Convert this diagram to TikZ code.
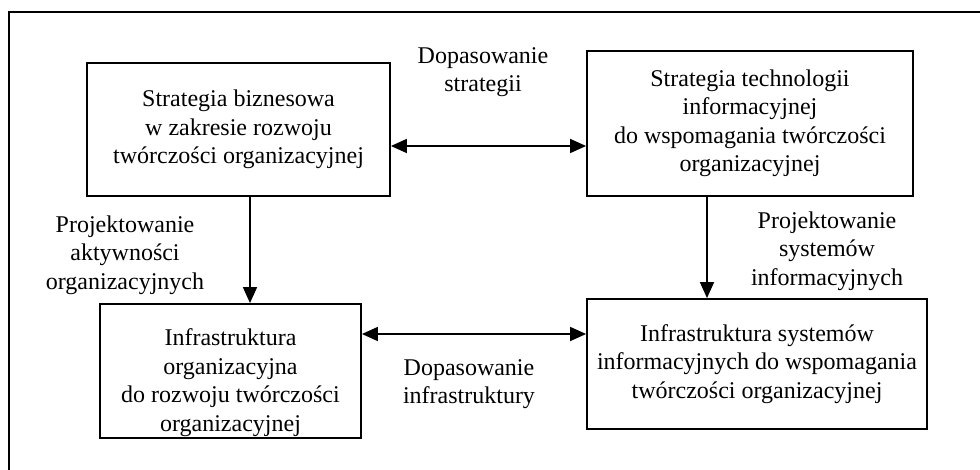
\documentclass[tikz,border=0pt]{standalone}
\usepackage{fontspec}
\setmainfont{Liberation Serif}
\usetikzlibrary{arrows.meta}
\usetikzlibrary{calc}

\tikzset{
	blok/.style={draw, line width=1.8pt, align=center, inner sep=0pt},
	opis/.style={align=center, inner sep=0pt},
	strz/.style={line width=1.5pt, -{Triangle[length=16pt,width=14pt]}},
	dwustrz/.style={line width=1.5pt, {Triangle[length=16pt,width=14pt]}-{Triangle[length=16pt,width=14pt]}}
}

\begin{document}
\begin{tikzpicture}[x=1pt, y=-1pt, font=\fontsize{24}{28.5}\selectfont]
	\useasboundingbox (0,0) rectangle (980,470);
	% ramka (widoczna tylko lewa i gorna krawedz)
	\draw[line width=1.8pt] (9,470) -- (9,12) -- (980,12);

	% bloki
	\node[blok, minimum width=303pt, minimum height=133pt] (strBiz) at (238.5,129.5)
		{Strategia biznesowa\\w zakresie rozwoju\\twórczości organizacyjnej};
	\node[blok, minimum width=326pt, minimum height=145pt] (strIT) at (750,123.5)
		{Strategia technologii\\informacyjnej\\do wspomagania twórczości\\organizacyjnej};
	\node[blok, minimum width=261pt, minimum height=134pt] (infOrg) at (230.5,371)
		{\rule{0pt}{40pt}Infrastruktura\\organizacyjna\\do rozwoju twórczości\\organizacyjnej};
	\node[blok, minimum width=340pt, minimum height=130pt] (infSI) at (757,364)
		{Infrastruktura systemów\\informacyjnych do wspomagania\\twórczości organizacyjnej};

	% opisy
	\node[opis] (dopStr) at (483,72) {Dopasowanie\\strategii};
	\node[opis] (projAkt) at (125,255) {Projektowanie\\aktywności\\organizacyjnych};
	\node[opis] (projSI) at (827,251) {Projektowanie\\systemów\\informacyjnych};
	\node[opis] (dopInf) at (469,384) {Dopasowanie\\infrastruktury};

	% strzalki
	\draw[dwustrz] ([yshift=-16.5pt]strBiz.east) -- ([yshift=-16.5pt]strBiz.east -| strIT.west);
	\draw[strz] ([xshift=11.5pt]strBiz.south) -- ([xshift=11.5pt]strBiz.south |- infOrg.north);
	\draw[strz] ([xshift=-43pt]strIT.south) -- ([xshift=-43pt]strIT.south |- infSI.north);
	\draw[dwustrz] ([yshift=37pt]infOrg.east) -- ([yshift=37pt]infOrg.east -| infSI.west);
\end{tikzpicture}
\end{document}
